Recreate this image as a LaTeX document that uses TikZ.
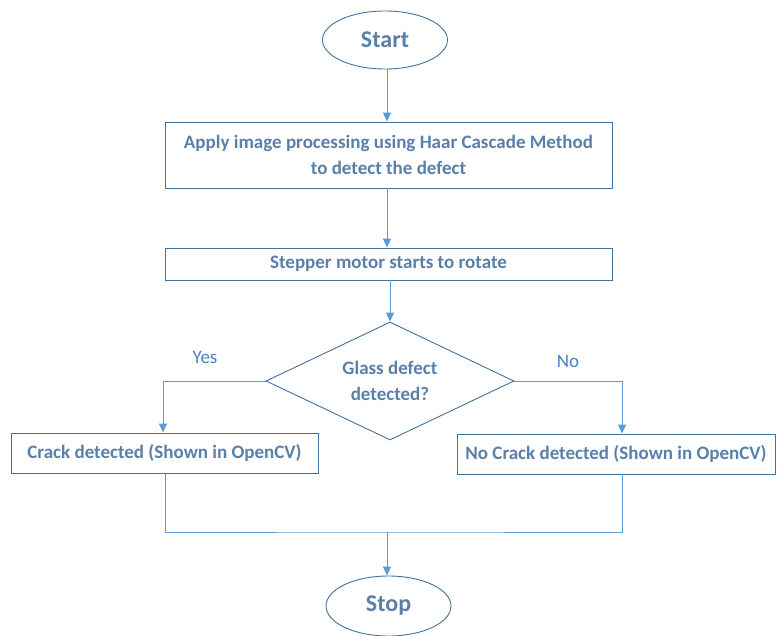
\documentclass[tikz,border=0pt]{standalone}
\usepackage{fontspec}
\setmainfont{Carlito}
\usetikzlibrary{shapes.geometric,arrows.meta}
\definecolor{bord}{HTML}{41719C}
\definecolor{txt}{HTML}{5A7FA8}
\definecolor{arr}{HTML}{5B9BD5}
\definecolor{lab}{HTML}{4A7EC4}
\tikzset{
  box/.style={draw=bord,line width=0.9pt,rectangle,minimum height=#1,inner sep=0pt,font=\fontsize{19}{26}\selectfont\bfseries,text=txt,align=center},
  term/.style={draw=bord,line width=0.9pt,ellipse,minimum width=125pt,minimum height=58pt,inner sep=0pt,font=\fontsize{24}{28}\selectfont\bfseries,text=txt},
  dec/.style={draw=bord,line width=0.9pt,diamond,inner sep=0pt},
  dectext/.style={font=\fontsize{19}{26}\selectfont\bfseries,text=txt,align=center,inner sep=0pt},
  conn/.style={draw=arr,line width=1pt},
  arrc/.style={conn,-{Triangle[length=9pt,width=8pt]}},
  lbl/.style={font=\fontsize{19}{22}\selectfont,text=lab}
}
\begin{document}
\begin{tikzpicture}[x=1pt,y=-1pt]
\useasboundingbox (0,0) rectangle (776,636);
\node[term] (start) at (385,40) {Start};
\node[box=66pt,minimum width=447pt] (b1) at (388.5,155) {Apply image processing using Haar Cascade Method\\to detect the defect};
\node[box=32pt,minimum width=447pt] (b2) at (388.5,264) {Stepper motor starts to rotate};
\node[dec,minimum width=248pt,minimum height=118pt] (d) at (390,381) {};
\node[dectext] (dt) at (d.center) {Glass defect\\detected?};
\node[box=40pt,minimum width=307pt] (b3) at (164.5,453) {Crack detected (Shown in OpenCV)};
\node[box=40pt,minimum width=318pt] (b4) at (616,454) {No Crack detected (Shown in OpenCV)};
\node[term,minimum height=60pt] (stop) at (388.5,606) {Stop};
\node[lbl] (yes) at (205,357) {Yes};
\node[lbl] (no) at (568,361) {No};
\coordinate (m) at (387,532);
\draw[arrc] (387,0 |- start.south) -- (387,0 |- b1.north);
\draw[arrc] (387,0 |- b1.south) -- (387,0 |- b2.north);
\draw[arrc] (d.north |- b2.south) -- (d.north);
\draw[arrc] (d.west) -| (163,0 |- b3.north);
\draw[arrc] (d.east) -| (622,0 |- b4.north);
\draw[conn] (165,0 |- b3.south) |- (m) -| (622,0 |- b4.south);
\draw[arrc] (m) -- (387,0 |- stop.north);
\end{tikzpicture}
\end{document}
